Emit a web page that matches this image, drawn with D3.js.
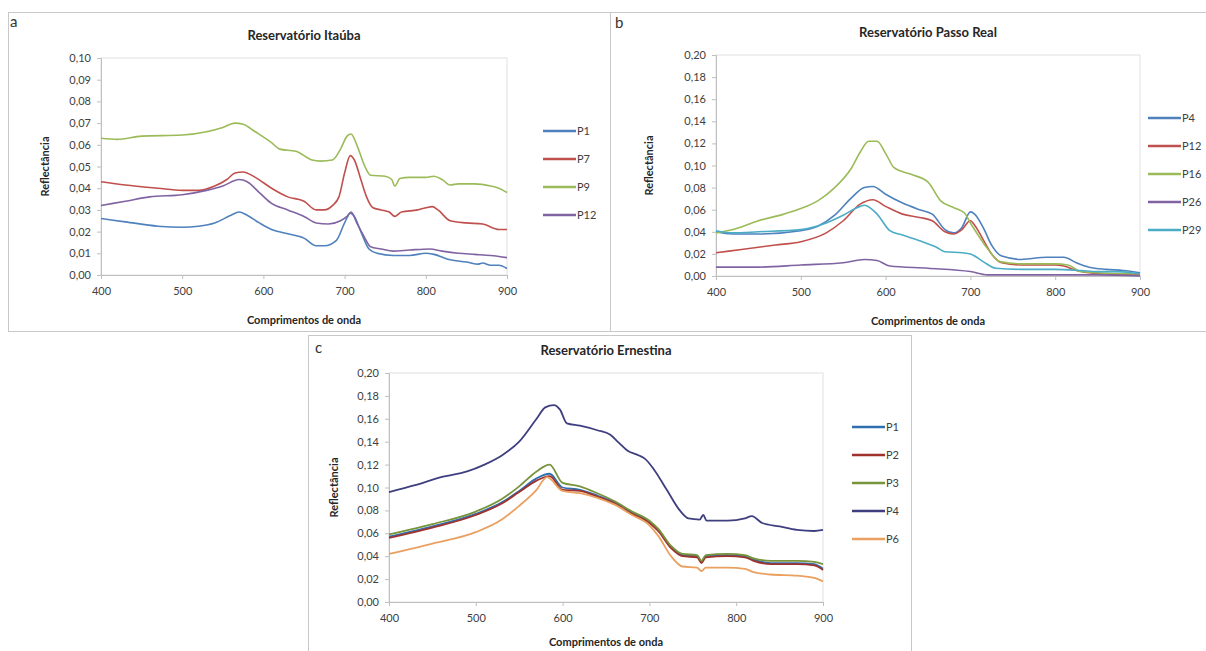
<!DOCTYPE html>
<html>
<head>
<meta charset="utf-8">
<script src="https://cdn.jsdelivr.net/npm/d3@7"></script>
<style>
  body { margin: 0; background: #fff; }
  svg { display: block; font-family: Lato, "Open Sans", sans-serif; }
  .tick text { fill: #404040; font-size: 11px; }
</style>
</head>
<body>
<svg width="1206" height="651"></svg>
<script>
// --- data ---
const xTicks = [400, 500, 600, 700, 800, 900];

// a - Reservatório Itaúba
const itaubaNames = ["P1", "P7", "P9", "P12"];
const itaubaP1 = [[400,0.026],[430,0.0245],[470,0.0225],[500,0.022],[520,0.0225],[540,0.024],[560,0.0275],[570,0.029],[580,0.0275],[595,0.024],[610,0.021],[630,0.019],[650,0.017],[665,0.0135],[675,0.0135],[690,0.016],[700,0.024],[707,0.0285],[712,0.027],[720,0.02],[730,0.012],[740,0.01],[760,0.009],[780,0.009],[800,0.01],[810,0.0095],[830,0.007],[850,0.006],[865,0.005],[870,0.0055],[880,0.0045],[890,0.0045],[900,0.003]];
const itaubaP7 = [[400,0.043],[430,0.0415],[470,0.04],[500,0.039],[520,0.039],[540,0.041],[555,0.044],[565,0.047],[575,0.0475],[590,0.045],[610,0.04],[630,0.036],[650,0.034],[665,0.03],[675,0.03],[685,0.032],[693,0.036],[700,0.047],[707,0.055],[712,0.053],[720,0.044],[727,0.036],[735,0.031],[745,0.03],[755,0.029],[762,0.027],[770,0.029],[790,0.03],[800,0.031],[808,0.0315],[815,0.03],[830,0.025],[850,0.024],[870,0.0235],[890,0.021],[900,0.021]];
const itaubaP9 = [[400,0.063],[420,0.0625],[450,0.064],[500,0.0645],[530,0.066],[550,0.068],[565,0.07],[575,0.0695],[590,0.066],[610,0.061],[620,0.058],[640,0.057],[660,0.053],[670,0.0525],[685,0.053],[695,0.058],[703,0.064],[708,0.065],[715,0.06],[725,0.05],[732,0.046],[750,0.0455],[758,0.044],[762,0.041],[768,0.0445],[780,0.045],[800,0.045],[810,0.0455],[820,0.044],[830,0.0415],[840,0.042],[860,0.042],[880,0.041],[890,0.04],[900,0.038]];
const itaubaP12 = [[400,0.032],[430,0.034],[460,0.036],[500,0.037],[530,0.039],[550,0.041],[570,0.044],[580,0.043],[595,0.038],[610,0.033],[630,0.03],[650,0.027],[665,0.024],[680,0.0235],[695,0.025],[703,0.027],[708,0.029],[715,0.024],[725,0.017],[732,0.013],[745,0.012],[760,0.011],[780,0.0115],[805,0.012],[820,0.011],[840,0.01],[860,0.0095],[880,0.009],[900,0.008]];

// b - Reservatório Passo Real
const passoNames = ["P4", "P12", "P16", "P26", "P29"];
const passoP4 = [[400,0.04],[420,0.038],[450,0.038],[500,0.041],[520,0.045],[540,0.055],[560,0.071],[575,0.08],[585,0.081],[600,0.074],[620,0.066],[640,0.06],[655,0.056],[670,0.042],[680,0.039],[690,0.044],[700,0.058],[705,0.056],[715,0.044],[725,0.028],[737,0.018],[760,0.015],[790,0.017],[810,0.017],[825,0.012],[840,0.008],[860,0.006],[880,0.005],[900,0.003]];
const passoP12 = [[400,0.021],[430,0.024],[470,0.028],[500,0.031],[530,0.039],[550,0.05],[570,0.065],[585,0.069],[600,0.063],[620,0.056],[640,0.053],[655,0.05],[670,0.04],[680,0.038],[690,0.042],[700,0.05],[705,0.046],[715,0.033],[725,0.02],[737,0.012],[760,0.01],[800,0.01],[810,0.009],[825,0.005],[850,0.002],[900,0.001]];
const passoP16 = [[400,0.039],[420,0.042],[450,0.05],[480,0.056],[500,0.061],[520,0.068],[540,0.08],[560,0.098],[570,0.112],[580,0.122],[590,0.122],[600,0.111],[610,0.098],[630,0.092],[650,0.085],[665,0.068],[680,0.062],[693,0.057],[700,0.048],[710,0.036],[720,0.025],[735,0.013],[760,0.011],[800,0.011],[815,0.01],[830,0.004],[850,0.003],[880,0.002],[900,0.002]];
const passoP26 = [[400,0.008],[450,0.008],[500,0.01],[550,0.012],[575,0.015],[590,0.014],[605,0.009],[650,0.007],[700,0.004],[720,0.001],[760,0.001],[800,0.001],[850,0.001],[900,0]];
const passoP29 = [[400,0.041],[420,0.039],[450,0.04],[500,0.042],[530,0.048],[550,0.055],[570,0.063],[575,0.064],[590,0.056],[605,0.041],[620,0.037],[640,0.032],[660,0.026],[670,0.022],[690,0.021],[700,0.02],[715,0.013],[730,0.007],[760,0.006],[800,0.006],[830,0.005],[850,0.004],[870,0.004],[890,0.003],[900,0.002]];

// c - Reservatório Ernestina
const ernestinaNames = ["P1", "P2", "P3", "P4", "P6"];
const ernestinaP1 = [[400,0.057],[450,0.066],[500,0.077],[530,0.087],[550,0.097],[570,0.108],[585,0.112],[600,0.1],[620,0.098],[640,0.093],[660,0.087],[680,0.078],[700,0.07],[710,0.063],[725,0.048],[738,0.041],[755,0.04],[760,0.035],[765,0.04],[790,0.041],[810,0.04],[820,0.037],[840,0.034],[870,0.034],[890,0.033],[900,0.029]];
const ernestinaP2 = [[400,0.056],[450,0.065],[500,0.076],[530,0.086],[550,0.096],[570,0.106],[585,0.11],[600,0.098],[620,0.097],[640,0.092],[660,0.086],[680,0.077],[700,0.069],[710,0.062],[725,0.047],[738,0.04],[755,0.039],[760,0.034],[765,0.039],[790,0.04],[810,0.039],[820,0.036],[840,0.033],[870,0.033],[890,0.032],[900,0.028]];
const ernestinaP3 = [[400,0.059],[450,0.068],[500,0.079],[530,0.09],[550,0.101],[570,0.114],[585,0.12],[600,0.104],[620,0.101],[640,0.095],[660,0.088],[680,0.079],[700,0.071],[710,0.064],[725,0.049],[738,0.042],[755,0.041],[760,0.036],[765,0.041],[790,0.042],[810,0.041],[820,0.038],[840,0.036],[870,0.036],[890,0.035],[900,0.033]];
const ernestinaP4 = [[400,0.096],[430,0.102],[460,0.109],[490,0.114],[510,0.12],[530,0.128],[550,0.14],[570,0.16],[580,0.17],[590,0.172],[597,0.168],[605,0.156],[620,0.154],[640,0.15],[655,0.146],[665,0.139],[675,0.132],[688,0.128],[695,0.125],[705,0.116],[720,0.098],[735,0.08],[745,0.073],[758,0.072],[762,0.076],[766,0.071],[790,0.071],[810,0.073],[818,0.075],[830,0.069],[850,0.066],[870,0.063],[890,0.062],[900,0.063]];
const ernestinaP6 = [[400,0.042],[450,0.051],[500,0.061],[530,0.072],[550,0.084],[570,0.098],[582,0.109],[600,0.097],[620,0.095],[640,0.091],[660,0.085],[680,0.076],[700,0.067],[710,0.058],[725,0.04],[738,0.031],[755,0.03],[760,0.027],[765,0.03],[790,0.03],[810,0.029],[820,0.026],[840,0.024],[870,0.023],[890,0.021],[900,0.018]];

// --- drawing ---
const svg = d3.select("svg");
const ptBR = d3.formatLocale({decimal: ",", thousands: ".", grouping: [3], currency: ["", ""]});
const fmt = ptBR.format(".2f");

function drawPanel(p) {
  // outer frame
  svg.append("rect")
    .attr("x", p.frame[0] + 0.5).attr("y", p.frame[1] + 0.5)
    .attr("width", p.frame[2]).attr("height", p.frame[3])
    .attr("fill", "none").attr("stroke", "#c8c8c8");

  svg.append("text")
    .attr("x", p.letter[0]).attr("y", p.letter[1])
    .attr("font-size", 15).attr("fill", "#333")
    .text(p.label);

  const x = d3.scaleLinear().domain([400, 900]).range([p.left, p.right]);
  const y = d3.scaleLinear().domain([0, p.ymax]).range([p.bottom, p.top]);

  // plot area border
  svg.append("rect")
    .attr("x", p.left).attr("y", p.top)
    .attr("width", p.right - p.left).attr("height", p.bottom - p.top)
    .attr("fill", "none").attr("stroke", "#e0e0e0");

  const yTicks = d3.range(0, p.ymax + 1e-9, p.ystep);
  const yAxis = svg.append("g")
    .attr("transform", `translate(${p.left},0)`)
    .call(d3.axisLeft(y).tickValues(yTicks).tickFormat(fmt).tickSize(4).tickPadding(6));
  const xAxis = svg.append("g")
    .attr("transform", `translate(0,${p.bottom})`)
    .call(d3.axisBottom(x).tickValues(xTicks).tickFormat(d3.format("d")).tickSize(4).tickPadding(8));
  [yAxis, xAxis].forEach(g => {
    g.select(".domain").attr("stroke", "#bfbfbf");
    g.selectAll(".tick line").attr("stroke", "#bfbfbf");
    g.selectAll(".tick text").attr("font-family", "Lato, sans-serif");
  });

  const line = d3.line().x(d => x(d[0])).y(d => y(d[1])).curve(d3.curveMonotoneX);
  p.series.forEach((s, i) => {
    svg.append("path")
      .datum(s)
      .attr("d", line)
      .attr("fill", "none")
      .attr("stroke", p.colors[i])
      .attr("stroke-width", p.lineWidth || 1.6);
  });

  // titles
  svg.append("text")
    .attr("x", (p.left + p.right) / 2).attr("y", p.top - 18)
    .attr("text-anchor", "middle")
    .attr("font-size", 13).attr("font-weight", "bold").attr("fill", "#262626")
    .text(p.title);
  svg.append("text")
    .attr("x", (p.left + p.right) / 2).attr("y", p.bottom + (p.xtitleGap || 49))
    .attr("text-anchor", "middle")
    .attr("font-size", 11).attr("font-weight", "bold").attr("fill", "#262626")
    .text("Comprimentos de onda");
  svg.append("text")
    .attr("transform", `translate(${p.ytitleX},${(p.top + p.bottom) / 2}) rotate(-90)`)
    .attr("text-anchor", "middle")
    .attr("font-size", 11).attr("font-weight", "bold").attr("fill", "#262626")
    .text("Reflectância");

  // legend
  const lg = svg.append("g").attr("transform", `translate(${p.legend[0]},${p.legend[1]})`);
  p.names.forEach((n, i) => {
    const row = lg.append("g").attr("transform", `translate(0,${i * 28})`);
    row.append("line").attr("x1", 0).attr("x2", 33).attr("y1", 0).attr("y2", 0)
      .attr("stroke", p.colors[i]).attr("stroke-width", 2.5);
    row.append("text").attr("x", 34).attr("y", 4)
      .attr("font-size", 11).attr("fill", "#404040")
      .text(n);
  });
}

drawPanel({
  label: "a", frame: [8, 12, 602, 319], letter: [10, 27],
  title: "Reservatório Itaúba",
  left: 101, right: 507, top: 58, bottom: 275, ymax: 0.10, ystep: 0.01,
  ytitleX: 49,
  names: itaubaNames,
  series: [itaubaP1, itaubaP7, itaubaP9, itaubaP12],
  colors: ["#4F81BD", "#C0504D", "#9BBB59", "#8064A2"],
  legend: [543, 131]
});

drawPanel({
  label: "b", frame: [610, 12, 600, 319], letter: [615, 28],
  title: "Reservatório Passo Real",
  left: 716, right: 1140, top: 55, bottom: 276, ymax: 0.20, ystep: 0.02,
  ytitleX: 653,
  names: passoNames,
  series: [passoP4, passoP12, passoP16, passoP26, passoP29],
  colors: ["#4F81BD", "#C0504D", "#9BBB59", "#8064A2", "#4BACC6"],
  legend: [1148, 118]
});

drawPanel({
  label: "c", frame: [308, 335, 603, 320], letter: [315, 353],
  title: "Reservatório Ernestina",
  left: 389, right: 823, top: 373, bottom: 602, ymax: 0.20, ystep: 0.02,
  ytitleX: 338, xtitleGap: 44,
  names: ernestinaNames,
  series: [ernestinaP1, ernestinaP2, ernestinaP3, ernestinaP4, ernestinaP6],
  colors: ["#2F6FAE", "#A0322E", "#77933C", "#3F3F80", "#E9A060"],
  lineWidth: 1.8,
  legend: [852, 427]
});
</script>
</body>
</html>
